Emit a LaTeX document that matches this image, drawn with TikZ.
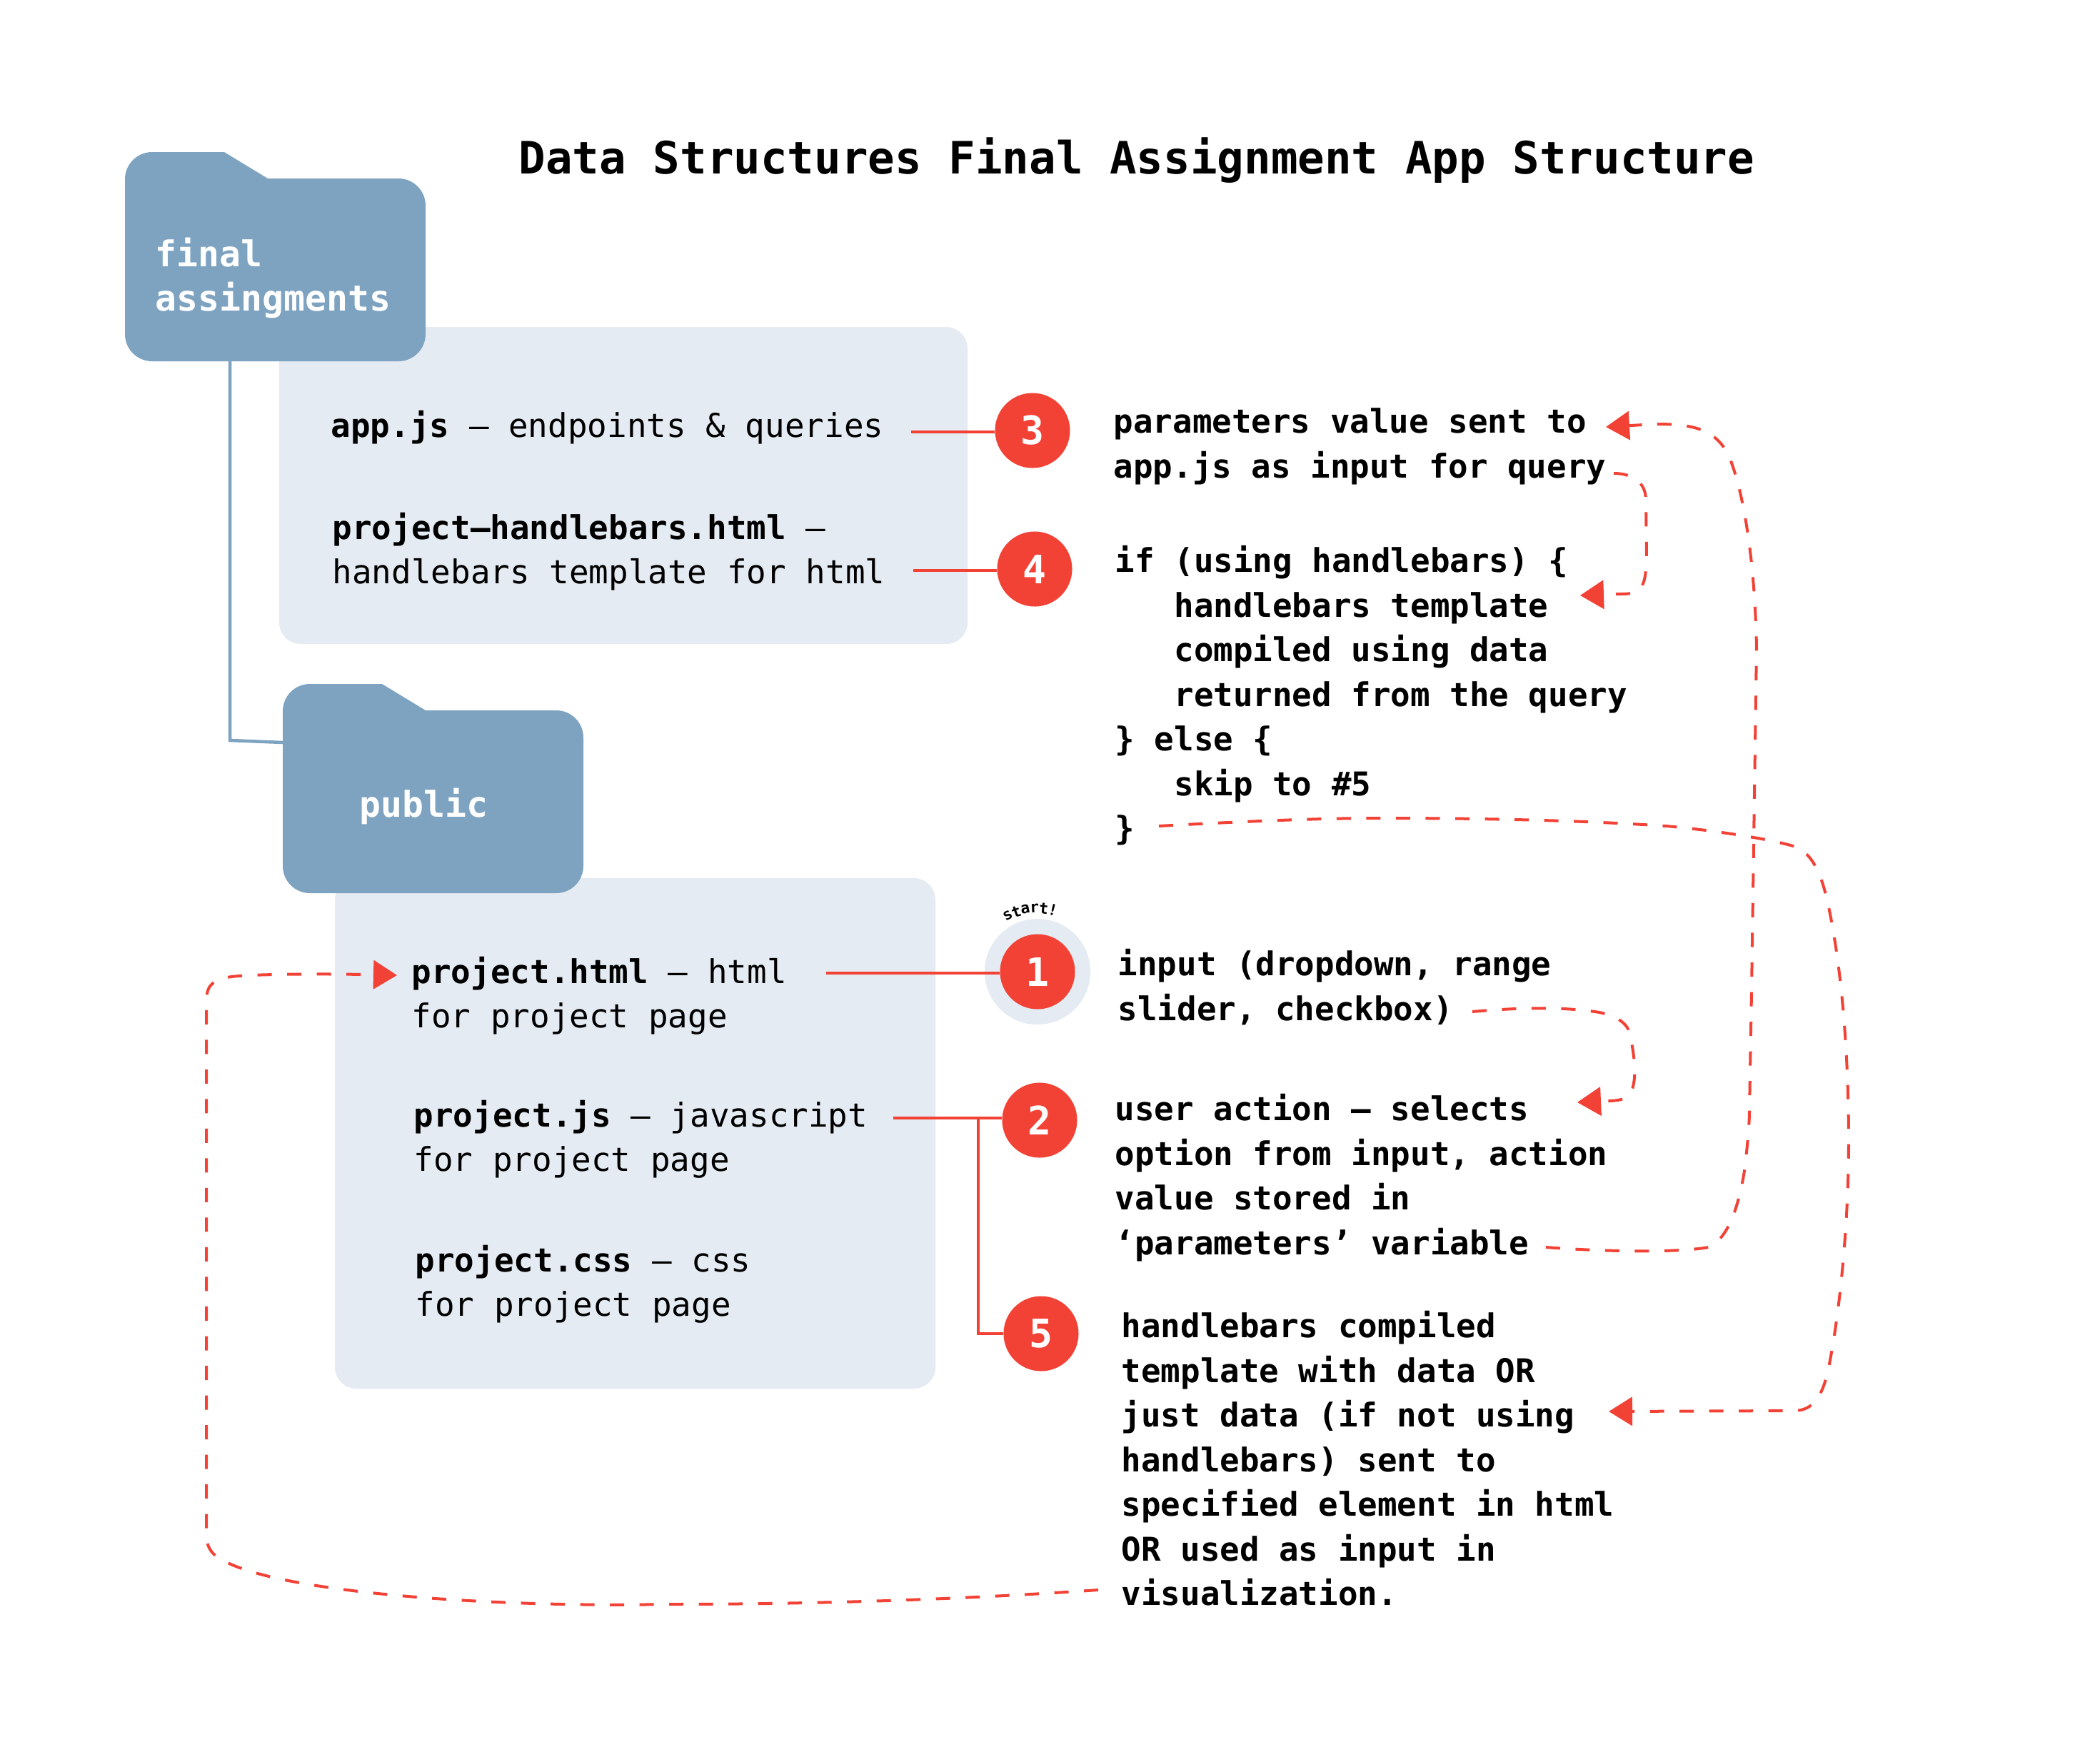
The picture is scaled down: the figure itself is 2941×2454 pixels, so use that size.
\documentclass[tikz,border=0pt]{standalone}
\usepackage{fontspec}
\setmonofont{DejaVu Sans Mono}
\usetikzlibrary{arrows.meta,calc}

\definecolor{folderblue}{HTML}{7EA3C1}
\definecolor{paleblue}{HTML}{E4EBF2}
\definecolor{stepred}{HTML}{F24236}

\tikzset{
  filebox/.style={fill=paleblue,rounded corners=0.3cm},
  numcircle/.style={circle,fill=stepred,text=white,minimum size=1.05cm,inner sep=0pt,
    font=\ttfamily\bfseries\fontsize{15.6}{18}\selectfont},
  filetext/.style={anchor=north west,inner sep=0pt,align=left,
    font=\ttfamily\fontsize{13.05}{17.77}\selectfont},
  steptext/.style={filetext,font=\ttfamily\bfseries\fontsize{13.03}{17.77}\selectfont},
  foldertext/.style={anchor=north west,inner sep=0pt,align=left,text=white,
    font=\ttfamily\bfseries\fontsize{14.15}{17.77}\selectfont},
  startletter/.style={inner sep=0pt,font=\ttfamily\bfseries\fontsize{6.1}{7}\selectfont},
  redline/.style={draw=stepred,line width=0.04cm},
  reddash/.style={redline,dash pattern=on 0.2cm off 0.215cm,
    -{Triangle[length=0.33cm,width=0.40cm,fill=stepred]}},
  folderline/.style={draw=folderblue,line width=0.045cm}
}

% folder outline, #1 and #2 are the top left corner
\newcommand{\drawfolder}[2]{
  \fill[folderblue,shift={(#1,#2)},rounded corners=0.38cm]
    (0,37) -- (0,0) [sharp corners] -- (139,0) -- (200,37) [rounded corners=0.38cm]
    -- (421,37) -- (421,293) -- (0,293) -- (0,37);
}
\newcommand{\ind}{\phantom{xxx}}

\begin{document}
\begin{tikzpicture}[x=0.01cm,y=-0.01cm]
  \useasboundingbox (0,0) rectangle (2941,2454);

  % file boxes
  \fill[filebox] (391,458) rectangle (1355,902);
  \fill[filebox] (469,1230) rectangle (1310,1945);

  % folders
  \drawfolder{175}{213}
  \drawfolder{396}{958}
  \coordinate (finalbottom) at (322,506);
  \coordinate (publicleft) at (396,1040);
  \draw[folderline] (finalbottom) -- (322,1037) -- (publicleft);

  \node[anchor=base west,inner sep=0pt,font=\ttfamily\bfseries\fontsize{17.77}{20}\selectfont] (title) at (726,243)
    {Data Structures Final Assignment App Structure};
  \node[foldertext] (finalname) at (217,332) {final\\assingments};
  \node[foldertext] (publicname) at (503,1103) {public};

  % file lists
  \node[filetext] (appjs) at (463,574) {\textbf{app.js} – endpoints \& queries};
  \node[filetext] (handlebars) at (465,717) {\textbf{project–handlebars.html} –\\handlebars template for html};
  \node[filetext] (projecthtml) at (576,1339) {\textbf{project.html} – html\\for project page};
  \node[filetext] (projectjs) at (579,1540) {\textbf{project.js} – javascript\\for project page};
  \node[filetext] (projectcss) at (581,1743) {\textbf{project.css} – css\\for project page};

  % numbered steps
  \fill[paleblue] (1453,1361) circle (0.74cm);
  \foreach \letter/\pos in {s/118,t/109.6,a/101.2,r/92.8,t/84.4,!/76}{
    \node[startletter,rotate=\pos-90] (start\pos) at ($(1453,1361)+(\pos:0.89cm)$) {\letter};
  }
  \node[numcircle] (one) at (1453,1361) {1};
  \node[numcircle] (two) at (1456,1569) {2};
  \node[numcircle] (three) at (1446,603) {3};
  \node[numcircle] (four) at (1449,797) {4};
  \node[numcircle] (five) at (1458,1868) {5};

  % explanations
  \node[steptext] (threetext) at (1559,571) {parameters value sent to\\app.js as input for query};
  \node[steptext] (fourtext) at (1561,764) {if (using handlebars) \{\\\ind handlebars template\\\ind compiled using data\\\ind returned from the query\\\} else \{\\\ind skip to \#5\\\}};
  \node[steptext] (onetext) at (1565,1329) {input (dropdown, range\\slider, checkbox)};
  \node[steptext] (twotext) at (1561,1532) {user action – selects\\option from input, action\\value stored in\\‘parameters’ variable};
  \node[steptext] (fivetext) at (1570,1836) {handlebars compiled\\template with data OR\\just data (if not using\\handlebars) sent to\\specified element in html\\OR used as input in\\visualization.};

  % solid lines to the numbers
  \coordinate (append) at (1276,605);
  \coordinate (handleend) at (1279,799);
  \coordinate (htmlend) at (1157,1363);
  \coordinate (jsend) at (1251,1566);
  \coordinate (jsfork) at (1370,1566);
  \draw[redline] (append) -- (append -| three.west);
  \draw[redline] (handleend) -- (handleend -| four.west);
  \draw[redline] (htmlend) -- (htmlend -| one.west);
  \draw[redline] (jsend) -- (jsend -| two.west);
  \draw[redline] (jsfork) |- (five.west);

  % dashed arrows between the explanations
  \coordinate (queryend) at (2260,663);
  \coordinate (templatetip) at (2213,834);
  \draw[reddash] (queryend) .. controls (2285,663) and (2305,675) .. (2305,700)
    -- (2306,780) .. controls (2305,825) and (2298,832) .. (2270,832) -- (templatetip);

  \coordinate (paramend) at (2165,1747);
  \coordinate (parametip) at (2249,598);
  \draw[reddash] (paramend) .. controls (2230,1752) and (2340,1756) .. (2393,1747)
    .. controls (2420,1735) and (2435,1690) .. (2443,1640)
    .. controls (2448,1600) and (2450,1570) .. (2450,1557)
    -- (2453,1390) -- (2460,907) .. controls (2458,800) and (2445,700) .. (2423,643)
    .. controls (2405,600) and (2370,594) .. (2319,594) -- (parametip);

  \coordinate (elseend) at (1623,1157);
  \coordinate (fivetip) at (2253,1977);
  \draw[reddash] (elseend) .. controls (1750,1150) and (1850,1146) .. (1932,1146)
    .. controls (2050,1146) and (2200,1148) .. (2333,1157)
    .. controls (2400,1163) and (2480,1175) .. (2518,1187)
    .. controls (2540,1200) and (2550,1225) .. (2558,1257)
    .. controls (2575,1330) and (2589,1450) .. (2589,1600)
    .. controls (2589,1720) and (2575,1850) .. (2560,1920)
    .. controls (2552,1955) and (2540,1976) .. (2512,1976) -- (fivetip);

  \coordinate (vizend) at (1538,2227);
  \coordinate (htmltip) at (556,1366);
  \draw[reddash] (vizend) .. controls (1350,2240) and (1150,2247) .. (933,2247)
    .. controls (700,2252) and (400,2232) .. (315,2187)
    .. controls (295,2178) and (289,2165) .. (289,2150)
    -- (289,1400) .. controls (290,1378) and (300,1372) .. (324,1368)
    .. controls (360,1364) and (450,1364) .. (512,1365) -- (htmltip);

  \coordinate (sliderend) at (2062,1417);
  \coordinate (usertip) at (2209,1544);
  \draw[reddash] (sliderend) .. controls (2130,1411) and (2190,1410) .. (2240,1418)
    .. controls (2262,1423) and (2280,1432) .. (2283,1450)
    .. controls (2289,1480) and (2291,1500) .. (2288,1517)
    .. controls (2285,1535) and (2278,1541) .. (2255,1542) -- (usertip);
\end{tikzpicture}
\end{document}
